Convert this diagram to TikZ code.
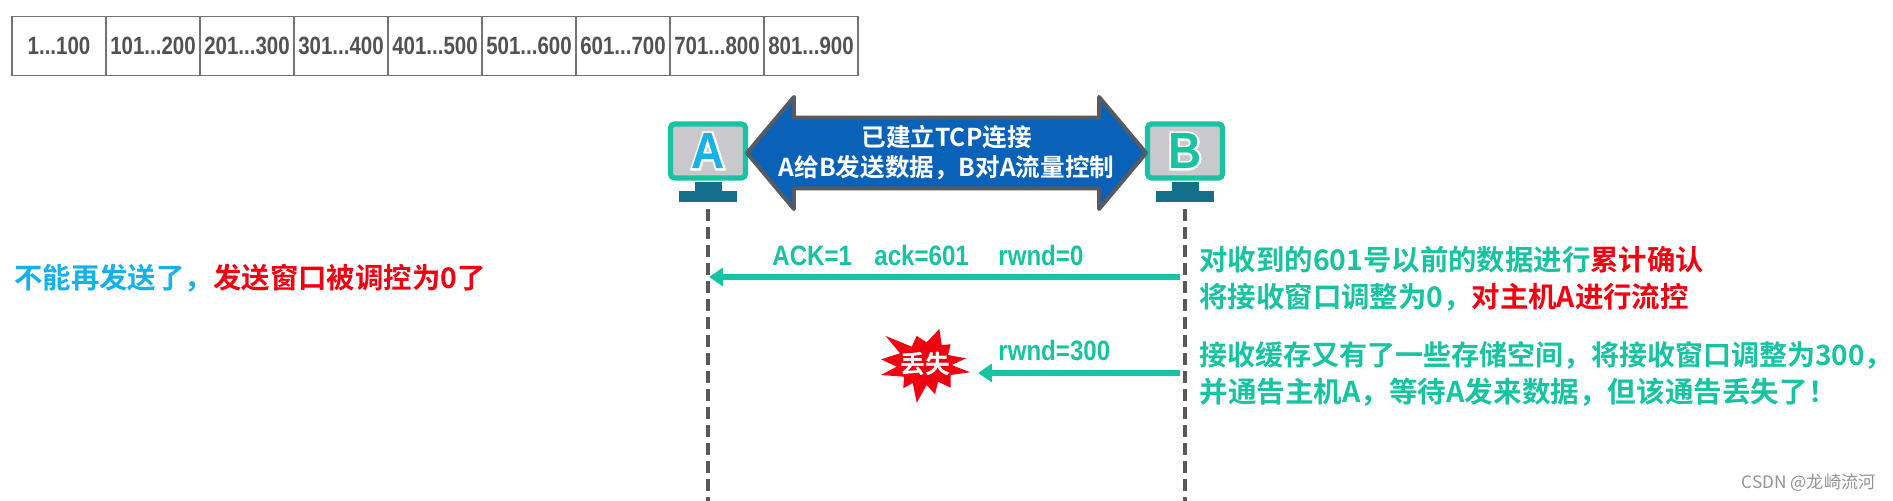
\documentclass[tikz,border=0pt]{standalone}
\usepackage{xcolor}
\usepackage{fontspec}
\setmainfont{Liberation Sans}
\newfontfamily\cjkbold{Noto Sans CJK SC Bold}
\newfontfamily\cjkplain{Noto Sans CJK SC}
\newfontfamily\cellfont[FakeStretch=0.82]{Liberation Sans Bold}
\newfontfamily\seqfont[FakeStretch=0.86]{Liberation Sans Bold}
\newfontfamily\hostfont[FakeStretch=0.9]{Liberation Sans Bold}
\newfontfamily\hostback[FakeStretch=0.9,FakeBold=8]{Liberation Sans Bold}
\usetikzlibrary{positioning,shapes.arrows,arrows.meta}
\definecolor{teal1}{HTML}{17C3A0}
\definecolor{bad}{HTML}{F00010}
\definecolor{sky}{HTML}{16B0EA}
\definecolor{deep}{HTML}{0A62B8}
\definecolor{stand}{HTML}{136F8A}
\definecolor{screen}{HTML}{C9C9CD}
\definecolor{edge}{HTML}{555B63}
\tikzset{
  cell/.style={rectangle,draw=black!55,line width=0.6pt,minimum width=47pt,minimum height=29.5pt,
    inner sep=0pt,outer sep=0pt,text=black!68,font=\cellfont\fontsize{12.5}{14}\selectfont},
  host/.style={rectangle,draw=teal1,fill=screen,line width=2.6pt,rounded corners=2pt,
    minimum width=37.5pt,minimum height=27pt,outer sep=0pt},
  stem/.style={rectangle,fill=stand,minimum width=13.5pt,minimum height=5pt,inner sep=0pt,outer sep=0pt},
  foot/.style={rectangle,fill=stand,minimum width=29pt,minimum height=5.5pt,inner sep=0pt,outer sep=0pt},
  life/.style={draw=black!65,line width=1.6pt,dash pattern=on 6pt off 3pt},
  msg/.style={-{Triangle[length=7pt,width=9pt]},draw=teal1,line width=3pt},
  seq/.style={text=teal1,inner sep=0pt,font=\seqfont\fontsize{14}{16}\selectfont},
  note/.style={anchor=west,align=left,inner sep=0pt,text=teal1,font=\cjkbold\fontsize{14.2}{18.6}\selectfont},
}
\begin{document}
\begin{tikzpicture}[x=0.5pt,y=-0.5pt]
  \fill[white] (0,0) rectangle (1893,501);
  \useasboundingbox (0,0) rectangle (1893,501);
  % segments
  \foreach \lo/\hi [count=\i] in {1/100,101/200,201/300,301/400,401/500,501/600,601/700,701/800,801/900}
    \node[cell] (seg\i) at ({12+94*(\i-0.5)},46) {\lo{}...\hi};
  % hosts
  \foreach \h/\x/\c/\t in {a/708/sky/A,b/1185/teal1/B} {
    \node[host] (\h) at (\x,151) {};
    \node[stem] (\h s) at (\x,187.5) {};
    \node[foot] (\h f) at (\x,197) {};
    \node[text=black!50,font=\hostfont\fontsize{25.5}{28}\selectfont,inner sep=0pt] (\h d) at (\x+2,153) {\t};
    \node[text=white,font=\hostback\fontsize{25.5}{28}\selectfont,inner sep=0pt] (\h w) at (\x,151) {\t};
    \node[text=\c,font=\hostfont\fontsize{25.5}{28}\selectfont,inner sep=0pt] (\h t) at (\x,151) {\t};
  }
  \node[shape=double arrow,draw=edge,fill=deep,line width=2pt,line join=round,text=white,align=center,inner sep=0pt,outer sep=0pt,
    minimum height=196pt,minimum width=56pt,double arrow head extend=8.5pt,double arrow tip angle=100,
    font=\cjkbold\fontsize{12.3}{15}\selectfont] (link) at (946.5,153) {已建立TCP连接\\A给B发送数据，B对A流量控制};
  % lifelines
  \coordinate (aend) at (708,501);
  \coordinate (bend) at (1185,501);
  \draw[life] (af) ++(0,12) -- (aend);
  \draw[life] (bf) ++(0,12) -- (bend);
  % messages
  \coordinate (ackb) at (1180,277);
  \coordinate (acka) at (709,277);
  \coordinate (winb) at (1180,373);
  \coordinate (wine) at (978,373);
  \draw[msg] (ackb) -- (acka);
  \draw[msg] (winb) -- (wine);
  \node[seq,anchor=base west] (ack1) at (772,266) {ACK=1};
  \node[seq,anchor=base west] (ack2) at (874,266) {ack=601};
  \node[seq,anchor=base west] (ack3) at (998,266) {rwnd=0};
  \node[seq,anchor=base west] (ack4) at (998,361) {rwnd=300};
  % lost mark
  \fill[bad] (939.3,329) -- (941.7,345) -- (950.7,344.3) -- (948,355) -- (966,358.3) -- (951.7,365)
    -- (970,372.3) -- (950.7,375) -- (950.7,387.7) -- (938,381.7) -- (935,394.3) -- (926.7,385)
    -- (916.7,402.7) -- (912.7,383) -- (903.3,388.3) -- (904,376.7) -- (881,375) -- (896.7,366.7)
    -- (881,359.3) -- (900,353.3) -- (885.7,336) -- (911.7,346.7) -- (916.7,336) -- (926.7,342.3) -- cycle;
  \node[text=white,inner sep=0pt,font=\cjkbold\fontsize{12.5}{14}\selectfont] (lost) at (925,364) {丢失};
  % notes
  \node[note] (left) at (14,278) {{\color{sky}不能再发送了，}{\color{bad}发送窗口被调控为0了}};
  \node[note] (ackn) at (1199,278.5) {对收到的601号以前的数据进行{\color{bad}累计确认}\\将接收窗口调整为0，{\color{bad}对主机A进行流控}};
  \node[note,font=\cjkbold\fontsize{14}{18.6}\selectfont] (winn) at (1199,374) {接收缓存又有了一些存储空间，将接收窗口调整为300，\\{\fontsize{14.3}{18.6}\selectfont 并通告主机A，等待A发来数据，但该通告丢失了！}};
  \node[text=black!42,inner sep=0pt,anchor=east,font=\cjkplain\fontsize{8.6}{10}\selectfont] (mark) at (1876,483) {CSDN @龙崎流河};
\end{tikzpicture}
\end{document}
